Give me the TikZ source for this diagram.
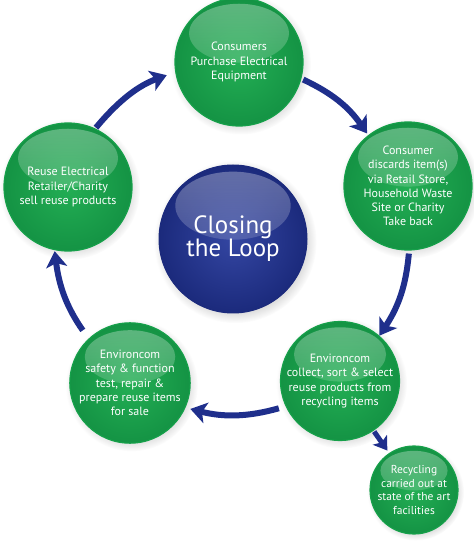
\documentclass[tikz,border=0pt]{standalone}
\usepackage{fontspec}
\setmainfont{PT Sans}
\usetikzlibrary{arrows.meta,shadows,fadings}
\definecolor{loopblue}{HTML}{1F2F8C}
\definecolor{blueinner}{HTML}{3446A2}
\definecolor{blueouter}{HTML}{1B2A7C}
\definecolor{greeninner}{HTML}{23AE54}
\definecolor{greenouter}{HTML}{149344}
\definecolor{greenrim}{HTML}{16A04A}

\begin{document}
\begin{tikzpicture}[x=1pt,y=1pt,
  gloss/.style={path picture={\fill[white,path fading=south,fill opacity=.32]
      ([yshift=0.45*#1]path picture bounding box.center)
      ellipse [x radius=0.78*#1, y radius=0.46*#1];}},
  greenball/.style={circle,minimum size=2*#1,inner sep=0pt,
      inner color=greeninner,outer color=greenouter,draw=greenrim,line width=1.2pt,
      circular drop shadow={shadow xshift=1.5pt,shadow yshift=-2pt,opacity=.25},
      gloss=#1,text=white,align=center,font=\fontsize{12}{14.2}\selectfont},
  blueball/.style={circle,minimum size=2*#1,inner sep=0pt,
      inner color=blueinner,outer color=blueouter,draw=blueouter,line width=1pt,
      circular drop shadow={shadow xshift=2pt,shadow yshift=-2.5pt,opacity=.3},
      gloss=#1,text=white,align=center,font=\fontsize{25}{23}\selectfont},
  looparrow/.style={draw=loopblue,line width=6pt,
      -{Stealth[length=16pt,width=21pt,inset=4pt]}}]
\useasboundingbox (0,0) rectangle (474,555);

\node [greenball=64pt,name=top] at (239,493) {Consumers\\Purchase Electrical\\Equipment};
\node [greenball=64pt,name=right] at (408,369) {Consumer\\discards item(s)\\via Retail Store,\\Household Waste\\Site or Charity\\Take back};
\node [greenball=64pt,name=left] at (68,368) {Reuse Electrical\\Retailer/Charity\\sell reuse products};
\node [blueball=74pt,name=hub] at (233,316) {Closing\\the Loop};
\node [greenball=58pt,name=lowleft] at (130,172) {Environcom\\safety \& function\\test, repair \&\\prepare reuse items\\for sale};
\node [greenball=59pt,name=lowright] at (340,174) {Environcom\\collect, sort \& select\\reuse products from\\recycling items};
\node [greenball=43pt,name=recycle,font=\fontsize{11.5}{13.8}\selectfont] at (414,65) {Recycling\\carried out at\\state of the art\\facilities};

\draw[looparrow,shorten <=2pt,shorten >=2pt] (top.-15) to[bend left=15] (right.128);
\draw[looparrow,shorten <=3pt] (right.-89) to[bend left=14] (lowright.49);
\draw[looparrow,shorten <=7pt,shorten >=5pt] (lowright.205) to[bend left=15] (lowleft.-24);
\draw[looparrow,shorten <=10pt,shorten >=1pt] (lowleft.133) to[bend left=14] (left.258);
\draw[looparrow,shorten <=1pt,shorten >=9pt] (left.65) to[bend left=15] (top.189);
\draw[looparrow,line width=5pt,shorten <=1pt,shorten >=3pt,
  -{Stealth[length=13pt,width=17pt,inset=3pt]}] (lowright.-56) -- (recycle.124);
\end{tikzpicture}
\end{document}
